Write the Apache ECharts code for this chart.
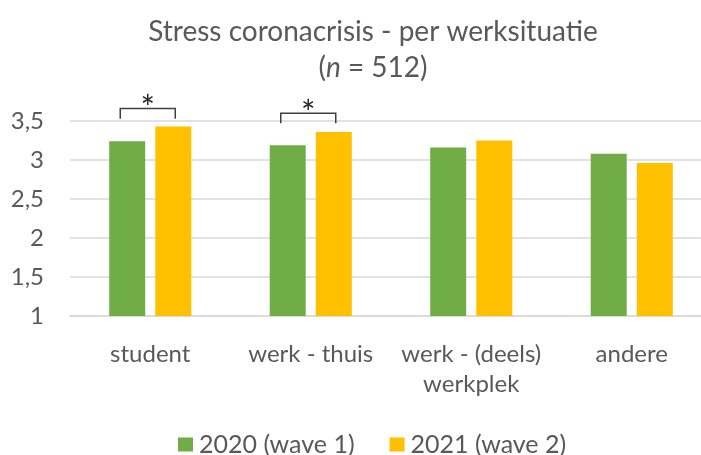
<!DOCTYPE html>
<html>
<head>
<meta charset="utf-8">
<script src="https://cdn.jsdelivr.net/npm/echarts@6/dist/echarts.min.js"></script>
<style>
  html, body { margin: 0; padding: 0; background: #fff; }
  #main { width: 701px; height: 455px; }
</style>
</head>
<body>
<div id="main"></div>
<script>
const categories = ['student', 'werk - thuis', 'werk - (deels)\nwerkplek', 'andere'];
const wave1 = [3.24, 3.19, 3.16, 3.08];
const wave2 = [3.43, 3.36, 3.25, 2.96];
const seriesNames = ['2020 (wave 1)', '2021 (wave 2)'];
const yTicks = [1, 1.5, 2, 2.5, 3, 3.5];
// significance brackets: category index, top of bracket, bottom of legs
const sigIndex = [0, 1];
const sigTop = [3.66, 3.60];
const sigBottom = [3.53, 3.47];

const font = 'Lato, "Open Sans", sans-serif';
const textColor = '#595959';

let myChart = echarts.init(document.getElementById('main'));
let option = {
    animation: false,
    title: {
        text: 'Stress coronacrisis - per werksituatie\n({i|n} = 512)',
        left: 368,
        top: 9,
        textAlign: 'center',
        textStyle: {
            fontFamily: font,
            fontSize: 28,
            fontWeight: 'normal',
            color: textColor,
            lineHeight: 36,
            rich: {
                i: { fontFamily: font, fontSize: 28, fontStyle: 'italic', color: textColor, lineHeight: 36 }
            }
        }
    },
    legend: {
        data: seriesNames,
        left: 173,
        top: 427,
        itemWidth: 15,
        itemHeight: 14,
        itemGap: 35,
        icon: 'rect',
        textStyle: { fontFamily: font, fontSize: 25, color: textColor, padding: [0, 0, 0, 1] }
    },
    grid: { left: 70, width: 642, top: 121, bottom: 139, outerBoundsMode: 'none', containLabel: false },
    xAxis: {
        type: 'category',
        data: categories,
        axisTick: { show: false },
        axisLine: { lineStyle: { color: '#d9d9d9', width: 1.5 } },
        axisLabel: {
            fontFamily: font,
            fontSize: 24,
            color: textColor,
            margin: 23,
            lineHeight: 30,
            interval: 0
        }
    },
    yAxis: {
        type: 'value',
        min: yTicks[0],
        max: yTicks[yTicks.length - 1],
        interval: 0.5,
        axisLine: { show: false },
        axisTick: { show: false },
        splitLine: { lineStyle: { color: '#d9d9d9', width: 1.5 } },
        axisLabel: {
            fontFamily: font,
            fontSize: 24,
            color: textColor,
            margin: 26,
            formatter: v => String(v).replace('.', ',')
        }
    },
    series: [
        {
            name: seriesNames[0],
            type: 'bar',
            data: wave1,
            barWidth: 36,
            barGap: '28%',
            itemStyle: { color: '#70AD47' }
        },
        {
            name: seriesNames[1],
            type: 'bar',
            data: wave2,
            barWidth: 36,
            itemStyle: { color: '#FFC000' }
        },
        {
            type: 'custom',
            clip: false,
            silent: true,
            data: sigIndex.map((c, i) => [c, sigTop[i], sigBottom[i]]),
            renderItem: function (params, api) {
                const top = api.coord([api.value(0), api.value(1)]);
                const bottom = api.coord([api.value(0), api.value(2)]);
                const x1 = top[0] - 30, x2 = top[0] + 25;
                return {
                    type: 'group',
                    children: [
                        {
                            type: 'polyline',
                            shape: { points: [[x1, bottom[1]], [x1, top[1]], [x2, top[1]], [x2, bottom[1]]] },
                            style: { stroke: '#404040', lineWidth: 1.5, fill: null }
                        },
                        {
                            type: 'text',
                            style: {
                                text: '*',
                                x: (x1 + x2) / 2,
                                y: top[1] + 1,
                                align: 'center',
                                verticalAlign: 'middle',
                                fontFamily: font,
                                fontSize: 34,
                                fill: '#262626'
                            }
                        }
                    ]
                };
            }
        }
    ]
};
myChart.setOption(option);
</script>
</body>
</html>
